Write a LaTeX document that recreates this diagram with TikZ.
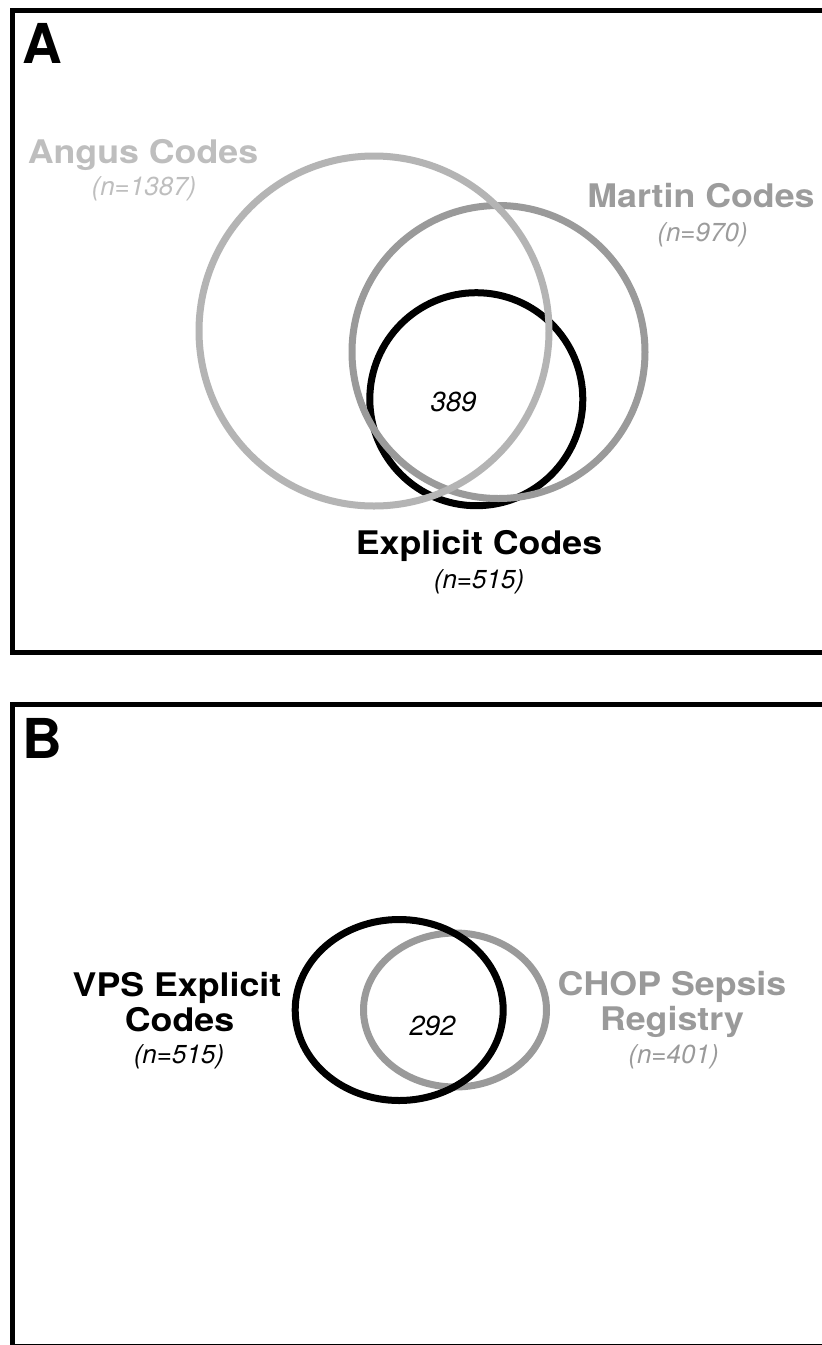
\documentclass[tikz,border=0pt]{standalone}
\usepackage{fontspec}
\setmainfont{TeX Gyre Heros}
\newfontfamily\hvwide[FakeStretch=1.1]{TeX Gyre Heros}

\definecolor{anguscol}{HTML}{B4B4B4}
\definecolor{angustxt}{HTML}{BEBEBE}
\definecolor{martincol}{HTML}{9A9A9A}
\definecolor{martintxt}{HTML}{9C9C9C}
\definecolor{chopcol}{HTML}{9A9A9A}

\begin{document}
\begin{tikzpicture}[x=1pt,y=-1pt,
  panelframe/.style={line width=5pt,black,line join=miter},
  ring/.style={line width=7pt},
  setname/.style={font=\hvwide\bfseries\fontsize{32.5}{36}\selectfont,anchor=base,inner sep=0pt},
  setcount/.style={font=\itshape\fontsize{26}{30}\selectfont,anchor=base,inner sep=0pt},
  overlap/.style={font=\itshape\fontsize{27.5}{30}\selectfont,anchor=base,inner sep=0pt},
  panellabel/.style={font=\bfseries\fontsize{55}{60}\selectfont,anchor=base west,inner sep=0pt}]

\useasboundingbox (0,0) rectangle (822,1345);
\fill[white] (0,0) rectangle (822,1345);

% ---- Panel A ----
\draw[panelframe] (830,10) -- (12.5,10) -- (12.5,652) -- (830,652);
\node[panellabel] (labA) at (22,63) {A};

\draw[ring,black] (476.3,399.2) circle[radius=106.5];
\draw[ring,martincol] (498.5,352) circle[radius=146.5];
\draw[ring,anguscol] (374,331) circle[radius=175];

\node[setname,text=angustxt] (angus) at (143,163.5) {Angus Codes};
\node[setcount,text=angustxt] (angusn) at (144,195) {(n=1387)};
\node[setname,text=martintxt] (martin) at (701,207.5) {Martin Codes};
\node[setcount,text=martintxt] (martinn) at (702.5,241.5) {(n=970)};
\node[setname,text=black] (expl) at (479,554.5) {Explicit Codes};
\node[setcount,text=black] (expln) at (479,588) {(n=515)};
\node[overlap] (ovA) at (453.5,411.5) {389};

% ---- Panel B ----
\draw[panelframe] (830,704) -- (12.5,704) -- (12.5,1346.5) -- (830,1346.5);
\node[panellabel] (labB) at (22,758.3) {B};

\draw[ring,chopcol] (455,1010) ellipse[x radius=91.5,y radius=77];
\draw[ring,black] (399.2,1010) ellipse[x radius=104,y radius=90.5];

\node[setname,text=black] (vps1) at (177,996.5) {VPS Explicit};
\node[setname,text=black] (vps2) at (179.5,1031.5) {Codes};
\node[setcount,text=black] (vpsn) at (179,1063) {(n=515)};
\node[setname,text=chopcol] (chop1) at (672,995.5) {CHOP Sepsis};
\node[setname,text=chopcol] (chop2) at (672,1030.5) {Registry};
\node[setcount,text=chopcol] (chopn) at (673.5,1063) {(n=401)};
\node[overlap] (ovB) at (432.5,1035) {292};

\end{tikzpicture}
\end{document}
